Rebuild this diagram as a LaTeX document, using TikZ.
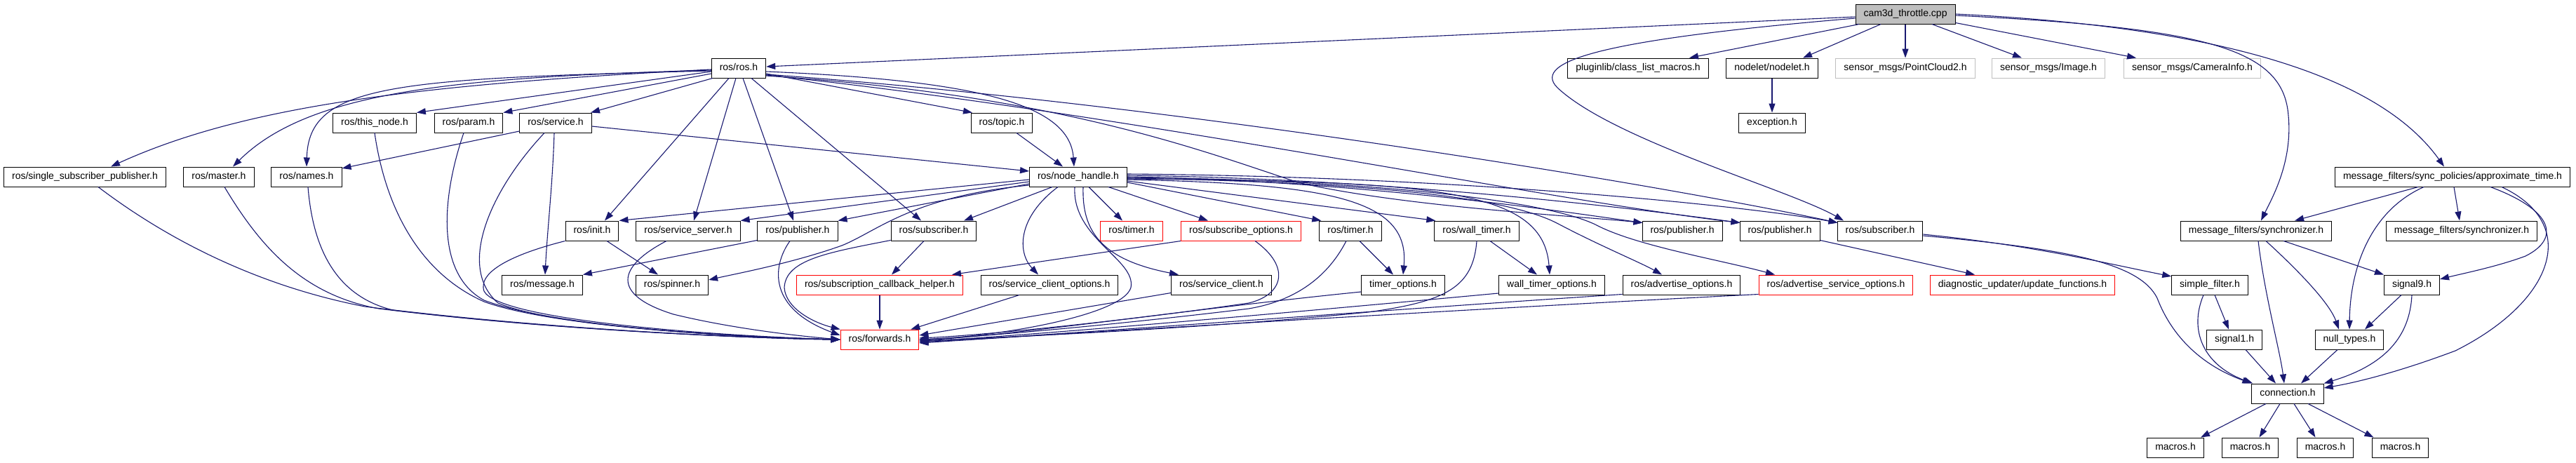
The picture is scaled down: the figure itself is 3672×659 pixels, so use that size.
\documentclass[tikz,border=0pt]{standalone}
\usepackage{fontspec}
\setmainfont{Liberation Sans}
\usetikzlibrary{arrows.meta,calc}
\definecolor{edgeblue}{HTML}{191970}
\definecolor{grayfill}{HTML}{BFBFBF}
\definecolor{boxred}{HTML}{FF0000}
\definecolor{boxgray}{HTML}{BFBFBF}
\begin{document}
\begin{tikzpicture}[x=1pt,y=-1pt,
 box/.style={draw=black, line width=1pt, fill=white, minimum height=28pt, inner xsep=11.5pt, inner ysep=0pt, text height=10.5pt, text depth=3pt, font=\fontsize{14}{16}\selectfont},
 redbox/.style={box, draw=boxred},
 graybox/.style={box, draw=boxgray},
 topbox/.style={box, fill=grayfill},
 dep/.style={draw=edgeblue, line width=1.1pt, -{Triangle[length=13pt,width=9pt]}}]
\useasboundingbox (0,0) rectangle (3672,659);
% nodes
\node[topbox] (cam) at (2716,20) {cam3d\_throttle.cpp};
\node[box] (rosh) at (1053,97) {ros/ros.h};
\node[box] (plug) at (2335,97) {pluginlib/class\_list\_macros.h};
\node[box] (nodelet) at (2526,97) {nodelet/nodelet.h};
\node[graybox] (pc2) at (2716,97) {sensor\_msgs/PointCloud2.h};
\node[graybox] (img) at (2920,97) {sensor\_msgs/Image.h};
\node[graybox] (caminfo) at (3125,97) {sensor\_msgs/CameraInfo.h};
\node[box] (thisnode) at (534,175) {ros/this\_node.h};
\node[box] (param) at (668,175) {ros/param.h};
\node[box] (service) at (792,175) {ros/service.h};
\node[box] (topic) at (1428,175) {ros/topic.h};
\node[box] (exception) at (2526,175) {exception.h};
\node[box] (single) at (121,252) {ros/single\_subscriber\_publisher.h};
\node[box] (master) at (312,252) {ros/master.h};
\node[box] (names) at (437,252) {ros/names.h};
\node[box] (nh) at (1537,252) {ros/node\_handle.h};
\node[box] (approx) at (3496,252) {message\_filters/sync\_policies/approximate\_time.h};
\node[box] (init) at (844,329) {ros/init.h};
\node[box] (srvsrv) at (981,329) {ros/service\_server.h};
\node[box] (pubA) at (1137,329) {ros/publisher.h};
\node[box] (subA) at (1331,329) {ros/subscriber.h};
\node[redbox] (timerR) at (1613,329) {ros/timer.h};
\node[redbox] (subopts) at (1769,329) {ros/subscribe\_options.h};
\node[box] (timerB) at (1925,329) {ros/timer.h};
\node[box] (wtimer) at (2105,329) {ros/wall\_timer.h};
\node[box] (pubB) at (2398,329) {ros/publisher.h};
\node[box] (pubC) at (2537,329) {ros/publisher.h};
\node[box] (subB) at (2680,329) {ros/subscriber.h};
\node[box] (syncA) at (3216,329) {message\_filters/synchronizer.h};
\node[box] (syncB) at (3509,329) {message\_filters/synchronizer.h};
\node[box] (message) at (773,406) {ros/message.h};
\node[box] (spinner) at (958,406) {ros/spinner.h};
\node[redbox] (subcb) at (1254,406) {ros/subscription\_callback\_helper.h};
\node[box] (scopts) at (1496,406) {ros/service\_client\_options.h};
\node[box] (sclient) at (1741,406) {ros/service\_client.h};
\node[box] (topts) at (2000,406) {timer\_options.h};
\node[box] (wtopts) at (2212,406) {wall\_timer\_options.h};
\node[box] (advopts) at (2397,406) {ros/advertise\_options.h};
\node[redbox] (advsrv) at (2617,406) {ros/advertise\_service\_options.h};
\node[redbox] (diag) at (2883,406) {diagnostic\_updater/update\_functions.h};
\node[box] (simple) at (3150,406) {simple\_filter.h};
\node[box] (signalnine) at (3438,406) {signal9.h};
\node[redbox] (fwd) at (1254,484) {ros/forwards.h};
\node[box] (signalone) at (3185,484) {signal1.h};
\node[box] (nulltypes) at (3349,484) {null\_types.h};
\node[box] (conn) at (3261,561) {connection.h};
\node[box] (macA) at (3101,638) {macros.h};
\node[box] (macB) at (3207.5,638) {macros.h};
\node[box] (macC) at (3314.5,638) {macros.h};
\node[box] (macD) at (3421.5,638) {macros.h};
% edges from cam3d
\draw[dep] ($(cam.west)+(0,4)$) -- ($(rosh.east)+(0,-2)$);
\draw[dep] ($(cam.south)+(-66,0)$) -- ($(plug.north)+(73,0)$);
\draw[dep] ($(cam.west)+(0,6)$) .. controls (2300,55) and (2180,85) .. (2220,125) .. controls (2300,200) and (2550,270) .. ($(subB.north)+(-52,0)$);
\draw[dep] ($(cam.south)+(-35,0)$) -- ($(nodelet.north)+(44,0)$);
\draw[dep] (cam.south) -- (pc2.north);
\draw[dep] ($(cam.south)+(38,0)$) -- ($(img.north)+(-38,0)$);
\draw[dep] ($(cam.south east)+(0,-2)$) -- ($(caminfo.north)+(-80,0)$);
\draw[dep] ($(cam.east)+(0,2)$) .. controls (3150,40) and (3255,70) .. (3262,165) .. controls (3268,230) and (3240,280) .. ($(syncA.north)+(7,0)$);
\draw[dep] (cam.east) .. controls (3200,40) and (3400,120) .. ($(approx.north)+(-12,0)$);
\draw[dep] (nodelet.south) -- (exception.north);
% edges from ros.h
\draw[dep] ($(rosh.west)+(0,2)$) .. controls (600,120) and (350,150) .. ($(single.north)+(37,0)$);
\draw[dep] ($(rosh.west)+(0,3)$) .. controls (650,110) and (440,130) .. ($(master.north)+(20,0)$);
\draw[dep] ($(rosh.west)+(0,4)$) .. controls (560,112) and (440,120) .. (names.north);
\draw[dep] ($(rosh.west)+(0,5)$) -- (thisnode.north east);
\draw[dep] ($(rosh.west)+(0,8)$) -- (param.north east);
\draw[dep] ($(rosh.south west)+(2,0)$) -- ($(service.north)+(50,0)$);
\draw[dep] ($(rosh.east)+(0,8)$) -- ($(topic.north)+(-42,0)$);
\draw[dep] ($(rosh.east)+(0,5)$) .. controls (1400,115) and (1525,150) .. ($(nh.north)+(-6,0)$);
\draw[dep] ($(rosh.south)+(-14,0)$) -- ($(init.north)+(18,0)$);
\draw[dep] ($(rosh.south)+(-4,0)$) -- ($(srvsrv.north)+(8,0)$);
\draw[dep] ($(rosh.south)+(6,0)$) -- ($(pubA.north)+(-6,0)$);
\draw[dep] ($(rosh.south)+(18,0)$) -- ($(subA.north)+(-18,0)$);
\draw[dep] ($(rosh.east)+(0,11)$) .. controls (1500,135) and (1700,210) .. (1850,260) .. controls (2000,295) and (2250,308) .. ($(pubB.north west)+(1,3)$);
\draw[dep] ($(rosh.east)+(0,10)$) .. controls (1600,160) and (2200,285) .. ($(pubC.north west)+(1,3)$);
\draw[dep] ($(rosh.east)+(0,9)$) .. controls (1700,150) and (2400,270) .. ($(subB.north west)+(1,3)$);
% edges from node_handle
\draw[dep] ($(nh.west)+(0,4)$) -- (init.north east);
\draw[dep] ($(nh.west)+(0,7)$) -- (srvsrv.north east);
\draw[dep] ($(nh.west)+(0,10)$) -- (pubA.north east);
\draw[dep] ($(nh.south)+(-37,0)$) -- ($(subA.north)+(43,0)$);
\draw[dep] ($(nh.west)+(0,12)$) .. controls (1300,280) and (1250,330) .. (1200,350) .. controls (1130,375) and (1050,390) .. ($(spinner.east)+(0,-7)$);
\draw[dep] ($(nh.south)+(-29,0)$) .. controls (1450,310) and (1450,360) .. ($(scopts.north)+(-16,0)$);
\draw[dep] ($(nh.south)+(-5,0)$) .. controls (1528,340) and (1620,370) .. (1612,410) .. controls (1600,450) and (1420,480) .. (fwd.east);
\draw[dep] ($(nh.south)+(7,0)$) .. controls (1542,330) and (1570,370) .. ($(sclient.north)+(-61,0)$);
\draw[dep] ($(nh.south)+(15,0)$) -- ($(timerR.north)+(-13,0)$);
\draw[dep] ($(nh.south east)+(-27,0)$) -- ($(subopts.north)+(-47,0)$);
\draw[dep] ($(nh.east)+(0,8)$) -- ($(timerB.north west)+(3,0)$);
\draw[dep] ($(nh.east)+(0,6)$) -- ($(wtimer.north west)+(2,0)$);
\draw[dep] ($(nh.east)+(0,4)$) .. controls (1900,262) and (2010,285) .. (topts.north);
\draw[dep] ($(nh.east)+(0,3)$) .. controls (2050,258) and (2200,270) .. ($(wtopts.north)+(-3,0)$);
\draw[dep] ($(nh.east)+(0,2)$) .. controls (1950,260) and (2150,280) .. (2223,320) .. controls (2280,350) and (2340,375) .. ($(advopts.north)+(-28,0)$);
\draw[dep] ($(nh.east)+(0,1)$) .. controls (1950,256) and (2200,285) .. (2274,320) .. controls (2330,350) and (2450,370) .. ($(advsrv.north)+(-87,0)$);
\draw[dep] (nh.east) .. controls (1950,258) and (2250,305) .. ($(pubB.north west)+(1,3)$);
\draw[dep] ($(nh.east)+(0,-2)$) .. controls (2000,255) and (2350,300) .. ($(pubC.north west)+(1,3)$);
\draw[dep] ($(nh.east)+(0,-4)$) .. controls (2100,252) and (2500,295) .. ($(subB.north west)+(1,3)$);
% other ros edges
\draw[dep] ($(topic.south)+(21,0)$) -- ($(nh.north)+(-22,0)$);
\draw[dep] ($(service.east)+(0,5)$) -- ($(nh.west)+(0,-8)$);
\draw[dep] ($(service.west)+(0,12)$) -- ($(names.east)+(0,-12)$);
\draw[dep] ($(service.south)+(-2,0)$) .. controls (788,260) and (780,330) .. ($(message.north)+(4,0)$);
\draw[dep] ($(service.south)+(-16,0)$) .. controls (700,270) and (650,380) .. (710,432) .. controls (800,470) and (1100,482) .. (fwd.west);
\draw[dep] ($(param.south)+(-7,0)$) .. controls (630,280) and (620,390) .. (690,428) .. controls (800,470) and (1100,482) .. (fwd.west);
\draw[dep] (thisnode.south) .. controls (550,300) and (600,390) .. (690,430) .. controls (800,470) and (1100,482) .. (fwd.west);
\draw[dep] ($(single.south)+(19,0)$) .. controls (250,350) and (380,410) .. (520,437) .. controls (800,472) and (1100,483) .. (fwd.west);
\draw[dep] ($(master.south)+(8,0)$) .. controls (370,350) and (430,420) .. (540,440) .. controls (800,472) and (1100,483) .. (fwd.west);
\draw[dep] ($(names.south)+(2,0)$) .. controls (445,340) and (470,420) .. (560,442) .. controls (800,472) and (1100,483) .. (fwd.west);
\draw[dep] ($(init.south)+(21,0)$) -- ($(spinner.north)+(-20,0)$);
\draw[dep] (init.south west) .. controls (740,360) and (680,385) .. (690,415) .. controls (710,455) and (1000,478) .. (fwd.west);
\draw[dep] ($(srvsrv.south)+(-31,0)$) .. controls (880,380) and (870,420) .. (960,448) .. controls (1050,470) and (1150,480) .. (fwd.west);
\draw[dep] ($(pubA.south west)+(0,-1)$) -- (message.north east);
\draw[dep] ($(pubA.south)+(-11,0)$) .. controls (1100,380) and (1095,440) .. ($(fwd.west)+(0,-6)$);
\draw[dep] ($(subA.south west)+(0,-1)$) .. controls (1180,360) and (1120,370) .. (1118,410) .. controls (1120,440) and (1160,460) .. (fwd.north west);
\draw[dep] ($(subA.south)+(-14,0)$) -- ($(subcb.north)+(17,0)$);
\draw[dep] (subopts.south west) -- ($(subcb.north east)+(-16,0)$);
\draw[dep] ($(subopts.south)+(20,0)$) .. controls (1840,380) and (1830,420) .. (1780,432) .. controls (1600,458) and (1400,478) .. ($(fwd.east)+(0,-2)$);
\draw[dep] (subcb.south) -- (fwd.north);
\draw[dep] ($(scopts.south)+(-43,0)$) -- ($(fwd.north east)+(-12,0)$);
\draw[dep] ($(sclient.south west)+(0,-3)$) -- ($(fwd.east)+(0,-6)$);
\draw[dep] ($(timerB.south)+(13,0)$) -- ($(topts.north)+(-14,0)$);
\draw[dep] ($(timerB.south)+(-6,0)$) .. controls (1890,400) and (1840,430) .. (1780,440) .. controls (1600,462) and (1400,480) .. (fwd.east);
\draw[dep] ($(topts.west)+(0,10)$) .. controls (1700,440) and (1450,478) .. ($(fwd.east)+(0,1)$);
\draw[dep] ($(wtimer.south)+(19,0)$) -- ($(wtopts.north)+(-21,0)$);
\draw[dep] (wtimer.south) .. controls (2100,410) and (2060,430) .. (1950,445) .. controls (1700,470) and (1400,482) .. ($(fwd.east)+(0,2)$);
\draw[dep] ($(wtopts.west)+(0,12)$) .. controls (1900,440) and (1500,476) .. ($(fwd.east)+(0,3)$);
\draw[dep] ($(advopts.south west)+(0,-1)$) .. controls (2000,440) and (1500,478) .. ($(fwd.east)+(0,4)$);
\draw[dep] ($(advsrv.south west)+(0,-1)$) .. controls (2200,435) and (1600,470) .. ($(fwd.east)+(0,5)$);
\draw[dep] ($(pubC.south east)+(0,-1)$) -- ($(diag.north)+(-68,0)$);
% message_filters part
\draw[dep] ($(subB.east)+(0,5)$) .. controls (2900,350) and (3000,375) .. ($(simple.west)+(0,-12)$);
\draw[dep] ($(subB.east)+(0,7)$) .. controls (2950,355) and (3050,375) .. (3075,425) .. controls (3100,490) and (3150,525) .. (conn.north west);
\draw[dep] ($(simple.south)+(7,0)$) -- ($(signalone.north)+(-8,0)$);
\draw[dep] ($(simple.south)+(-9,0)$) .. controls (3120,470) and (3140,520) .. ($(conn.north west)+(2,0)$);
\draw[dep] ($(signalone.south)+(16,0)$) -- ($(conn.north)+(-17,0)$);
\draw[dep] ($(nulltypes.south)+(-17,0)$) -- ($(conn.north)+(19,0)$);
\draw[dep] ($(signalnine.south)+(-15,0)$) -- ($(nulltypes.north)+(22,0)$);
\draw[dep] (signalnine.south) .. controls (3435,480) and (3400,520) .. (conn.north east);
\draw[dep] ($(syncA.south)+(3,0)$) .. controls (3228,420) and (3250,500) .. ($(conn.north)+(-5,0)$);
\draw[dep] ($(syncA.south)+(14,0)$) .. controls (3270,380) and (3320,430) .. ($(nulltypes.north)+(-15,0)$);
\draw[dep] ($(syncA.south east)+(-69,0)$) -- (signalnine.north west);
\draw[dep] ($(approx.south)+(-49,0)$) -- ($(syncA.north east)+(-53,0)$);
\draw[dep] ($(approx.south)+(2,0)$) -- ($(syncB.north)+(-3,0)$);
\draw[dep] ($(approx.south)+(-41,0)$) .. controls (3380,300) and (3350,380) .. (nulltypes.north);
\draw[dep] ($(approx.south)+(54,0)$) .. controls (3640,300) and (3650,340) .. (3600,365) .. controls (3560,380) and (3510,390) .. ($(signalnine.east)+(0,-8)$);
\draw[dep] ($(approx.south east)+(-98,0)$) .. controls (3680,320) and (3640,430) .. (3500,500) .. controls (3420,530) and (3360,545) .. ($(conn.east)+(0,-8)$);
\draw[dep] ($(conn.south)+(-31,0)$) -- ($(macA.north)+(36,0)$);
\draw[dep] ($(conn.south)+(-11,0)$) -- ($(macB.north)+(13,0)$);
\draw[dep] ($(conn.south)+(9,0)$) -- ($(macC.north)+(-14,0)$);
\draw[dep] ($(conn.south)+(29,0)$) -- ($(macD.north)+(-38,0)$);
\end{tikzpicture}
\end{document}
